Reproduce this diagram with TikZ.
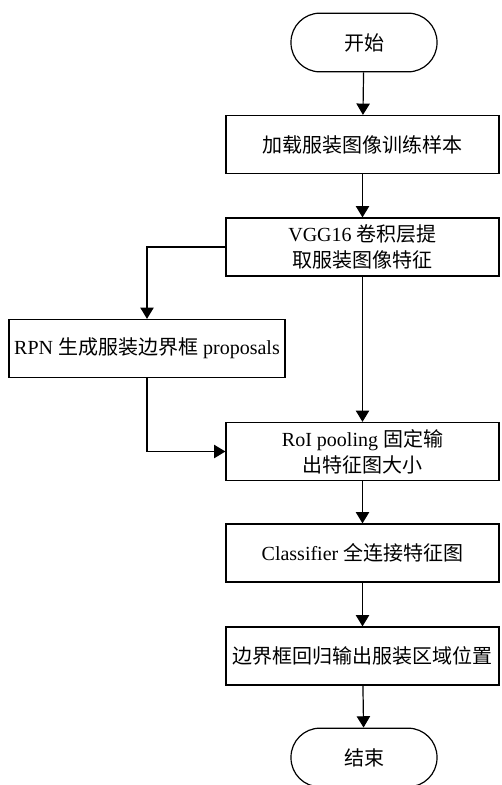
\documentclass[tikz,border=0pt]{standalone}
\usepackage{fontspec}
\setmainfont{Liberation Serif}
\newfontfamily\cjk{Noto Sans CJK SC}
\usetikzlibrary{arrows.meta}

\begin{document}
\begin{tikzpicture}[
    x=0.75pt, y=-0.75pt,
    every node/.style={font=\fontsize{15}{19.5}\selectfont},
    stepbox/.style={draw, line width=0.9pt, minimum width=204.75pt,
                    minimum height=43.5pt, align=center, inner sep=1pt},
    termbox/.style={draw, line width=0.9pt, rounded corners=21.7pt,
                    minimum width=109.5pt, minimum height=44pt},
    flow/.style={line width=0.9pt, -{Triangle[length=8.5pt, width=10pt]}}
]

% ---------- page ----------
\useasboundingbox (0,0) rectangle (501,785);

% ---------- main column ----------
\node[termbox] (start) at (364,42.5) {\cjk 开始};
\node[stepbox] (load)  at (362.5,144.5) {\cjk 加载服装图像训练样本};
\node[stepbox] (vgg)   at (362.5,247) {VGG16 {\cjk 卷积层提}\\{\cjk 取服装图像特征}};
\node[stepbox] (roi)   at (362.5,451.5) {RoI pooling {\cjk 固定输}\\{\cjk 出特征图大小}};
\node[stepbox] (cls)   at (362.5,553) {Classifier {\cjk 全连接特征图}};
\node[stepbox] (bbox)  at (362.5,656) {\cjk 边界框回归输出服装区域位置};
\node[termbox] (stop)  at (364,757.5) {\cjk 结束};

% ---------- side branch ----------
\node[stepbox, minimum width=207pt] (rpn) at (147,348.5)
    {RPN {\cjk 生成服装边界框} proposals};

% ---------- arrows ----------
\draw[flow] (start) -- (load);
\draw[flow] (load) -- (vgg);
\draw[flow] (vgg) -- (roi);
\draw[flow] (vgg.west) -| (rpn.north);
\draw[flow] (rpn.south) |- (roi.west);
\draw[flow] (roi) -- (cls);
\draw[flow] (cls) -- (bbox);
\draw[flow] (bbox) -- (stop);

\end{tikzpicture}
\end{document}
